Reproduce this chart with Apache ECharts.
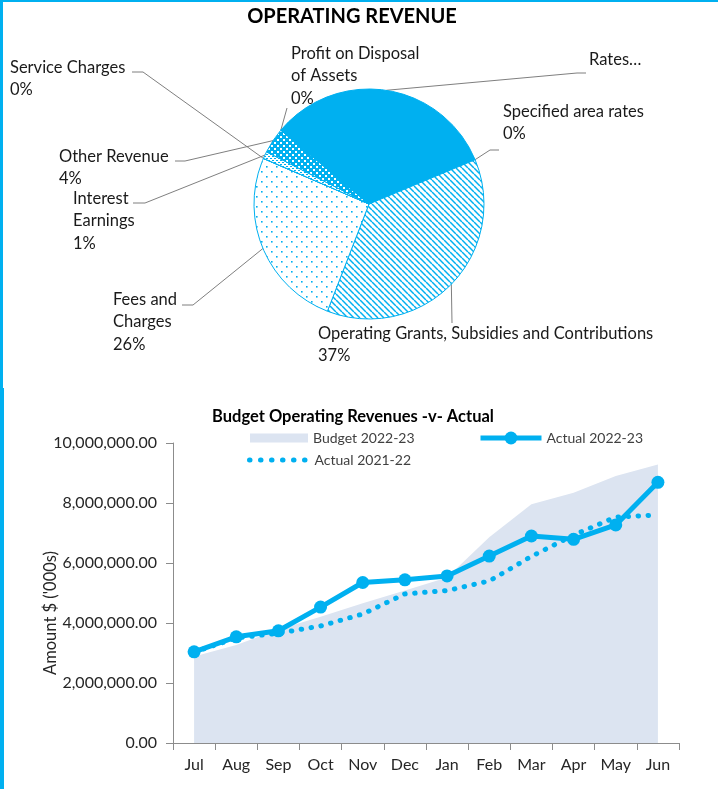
<!DOCTYPE html>
<html><head><meta charset="utf-8">
<script src="https://cdn.jsdelivr.net/npm/echarts@6/dist/echarts.min.js"></script>
<style>html,body{margin:0;padding:0;background:#fff}#c{width:718px;height:789px}</style>
</head><body><div id="c"></div>
<script>
// ---------- DATA ----------
const pieCategories = ['Rates', 'Specified area rates', 'Operating Grants, Subsidies and Contributions', 'Fees and Charges', 'Service Charges', 'Interest Earnings', 'Other Revenue', 'Profit on Disposal of Assets'];
const pieValues = [32.6, 0.02, 37.2, 25.6, 0.02, 1.0, 3.6, 0.02];
const pieLabelText = ['Rates…', 'Specified area rates', 'Operating Grants, Subsidies and Contributions', 'Fees and\nCharges', 'Service Charges', 'Interest\nEarnings', 'Other Revenue', 'Profit on Disposal\nof Assets'];
const pieShowPercent = [false, true, true, true, true, true, true, true];

const months = ['Jul', 'Aug', 'Sep', 'Oct', 'Nov', 'Dec', 'Jan', 'Feb', 'Mar', 'Apr', 'May', 'Jun'];
const budget2223 = [2880000, 3270000, 3780000, 4210000, 4660000, 5080000, 5520000, 6860000, 7960000, 8340000, 8900000, 9280000];
const actual2223 = [3040000, 3540000, 3740000, 4530000, 5350000, 5440000, 5570000, 6230000, 6900000, 6790000, 7270000, 8690000];
const actual2122 = [3030000, 3500000, 3660000, 3900000, 4300000, 4970000, 5080000, 5400000, 6220000, 6930000, 7530000, 7600000];

// ---------- LAYOUT / STYLE ----------
const BLUE = '#00B0F0';
const FONT = 'Lato';
const pieLabelLayout = [
  { x: 589, y: 48, elbow: [577, 73], end: [586, 73] },
  { x: 503, y: 100, elbow: [490, 150], end: [499, 150] },
  { x: 318, y: 322, elbow: [452, 323], end: [452, 323] },
  { x: 113, y: 288, elbow: [193, 305], end: [182, 305] },
  { x: 10, y: 56, elbow: [143, 72], end: [132, 72] },
  { x: 73, y: 187, elbow: [145, 203], end: [133, 203] },
  { x: 59, y: 145, elbow: [185, 161], end: [175, 161] },
  { x: 291, y: 42, elbow: [287, 108], end: [287, 108] }
];

function makePattern(w, h, draw) {
  const c = document.createElement('canvas');
  c.width = w; c.height = h;
  const g = c.getContext('2d');
  draw(g, w, h);
  return { image: c, repeat: 'repeat' };
}
const patGrants = makePattern(6, 6, (g, w, h) => {
  g.fillStyle = '#fff'; g.fillRect(0, 0, w, h);
  g.strokeStyle = BLUE; g.lineWidth = 1.5;
  for (const o of [-6, 0, 6]) { g.beginPath(); g.moveTo(o, 0); g.lineTo(o + w, h); g.stroke(); }
});
const patFees = makePattern(10, 10, (g, w, h) => {
  g.fillStyle = '#fff'; g.fillRect(0, 0, w, h);
  g.fillStyle = BLUE; g.fillRect(1, 1, 1.6, 1.6); g.fillRect(6, 6, 1.6, 1.6);
});
const patOther = makePattern(6, 6, (g, w, h) => {
  g.fillStyle = BLUE; g.fillRect(0, 0, w, h);
  g.fillStyle = '#fff'; g.fillRect(1, 1, 2, 2); g.fillRect(4, 4, 2, 2);
});
const patInterest = makePattern(4, 4, (g, w, h) => {
  g.fillStyle = '#fff'; g.fillRect(0, 0, w, h);
  g.fillStyle = BLUE; g.fillRect(0, 0, 2, 1); g.fillRect(2, 2, 2, 1);
});
const pieFills = [BLUE, BLUE, patGrants, patFees, BLUE, patInterest, patOther, BLUE];

const fmtMoney = v => v.toLocaleString('en-US', { minimumFractionDigits: 2, maximumFractionDigits: 2 });

const chart = echarts.init(document.getElementById('c'), null, { renderer: 'canvas' });
chart.setOption({
  animation: false,
  backgroundColor: '#fff',
  textStyle: { fontFamily: FONT },
  graphic: [
    { type: 'rect', shape: { x: 0, y: 0, width: 718, height: 2 }, style: { fill: BLUE }, silent: true },
    { type: 'rect', shape: { x: 0, y: 0, width: 3, height: 388 }, style: { fill: BLUE }, silent: true },
    { type: 'rect', shape: { x: 0, y: 388, width: 4, height: 401 }, style: { fill: BLUE }, silent: true }
  ],
  title: [
    { text: 'OPERATING REVENUE', left: 352, top: 7, textAlign: 'center', padding: 0,
      textStyle: { fontFamily: FONT, fontSize: 20, fontWeight: 'bold', color: '#000' } },
    { text: 'Budget Operating Revenues -v- Actual', left: 353, top: 408, textAlign: 'center', padding: 0,
      textStyle: { fontFamily: FONT, fontSize: 16.5, fontWeight: 'bold', color: '#000' } }
  ],
  legend: [
    { data: [{ name: 'Budget 2022-23', icon: 'rect' }], left: 250, top: 431, padding: 0, itemWidth: 58, itemHeight: 9, itemGap: 5,
      textStyle: { fontFamily: FONT, fontSize: 14, color: '#404040' } },
    { data: ['Actual 2022-23'], left: 478, top: 431, padding: 0, itemWidth: 61, itemHeight: 16, itemGap: 5,
      lineStyle: { width: 5 },
      textStyle: { fontFamily: FONT, fontSize: 14, color: '#404040' } },
    { data: ['Actual 2021-22'], left: 247, top: 453, padding: 0, itemWidth: 60, itemHeight: 16, itemGap: 6,
      lineStyle: { width: 5, type: [0.5, 10.5], cap: 'round' }, itemStyle: { opacity: 0 },
      textStyle: { fontFamily: FONT, fontSize: 14, color: '#404040' } }
  ],
  grid: { left: 173, right: 39, top: 443, bottom: 46, containLabel: false },
  xAxis: {
    type: 'category', data: months, boundaryGap: true,
    axisLine: { lineStyle: { color: '#8c8c8c', width: 1 } },
    axisTick: { show: true, length: 7, interval: 0, lineStyle: { color: '#8c8c8c' } },
    axisLabel: { interval: 0, margin: 14, fontFamily: FONT, fontSize: 16, color: '#262626' },
    splitLine: { show: false }
  },
  yAxis: {
    type: 'value', min: 0, max: 10000000, interval: 2000000,
    name: "Amount $ ('000s)", nameLocation: 'middle', nameRotate: 90, nameGap: 114, nameMoveOverlap: false,
    nameTextStyle: { fontFamily: FONT, fontSize: 16.5, color: '#262626', padding: [0, 40, 0, 0] },
    axisLine: { show: true, lineStyle: { color: '#8c8c8c', width: 1 } },
    axisTick: { show: true, length: 7, lineStyle: { color: '#8c8c8c' } },
    axisLabel: { margin: 16, fontFamily: FONT, fontSize: 16, color: '#262626', formatter: fmtMoney },
    splitLine: { show: false }
  },
  series: [
    {
      type: 'pie', name: 'Operating Revenue', center: [369, 204], radius: 115,
      startAngle: 140, clockwise: true, avoidLabelOverlap: false, silent: true,
      data: pieCategories.map((n, i) => ({ name: n, value: pieValues[i], itemStyle: { color: pieFills[i] } })),
      itemStyle: { borderColor: BLUE, borderWidth: 1 },
      label: {
        show: true, position: 'outside', fontFamily: FONT, fontSize: 16.5, lineHeight: 22.5, color: '#1a1a1a',
        formatter: p => pieLabelText[p.dataIndex] + (pieShowPercent[p.dataIndex] ? '\n' + Math.round(p.percent) + '%' : '')
      },
      labelLine: { show: true, length: 10, length2: 10, smooth: false, lineStyle: { color: '#7f7f7f', width: 1 } },
      labelLayout: p => {
        const L = pieLabelLayout[p.dataIndex];
        const start = p.labelLinePoints ? p.labelLinePoints[0] : L.elbow;
        return { x: L.x, y: L.y, align: 'left', verticalAlign: 'top', labelLinePoints: [start, L.elbow, L.end] };
      }
    },
    {
      type: 'line', name: 'Budget 2022-23', data: budget2223, symbol: 'none', z: 1,
      itemStyle: { color: '#DCE4F1' }, lineStyle: { width: 0, color: '#DCE4F1' },
      areaStyle: { color: '#DCE4F1', opacity: 1 }
    },
    {
      type: 'line', name: 'Actual 2021-22', data: actual2122, symbol: 'none', z: 2,
      itemStyle: { color: BLUE }, lineStyle: { width: 5, color: BLUE, type: [0.5, 9.5], cap: 'round' }
    },
    {
      type: 'line', name: 'Actual 2022-23', data: actual2223, symbol: 'circle', symbolSize: 13, z: 3,
      itemStyle: { color: BLUE }, lineStyle: { width: 5, color: BLUE }
    }
  ]
});
</script>
</body></html>
